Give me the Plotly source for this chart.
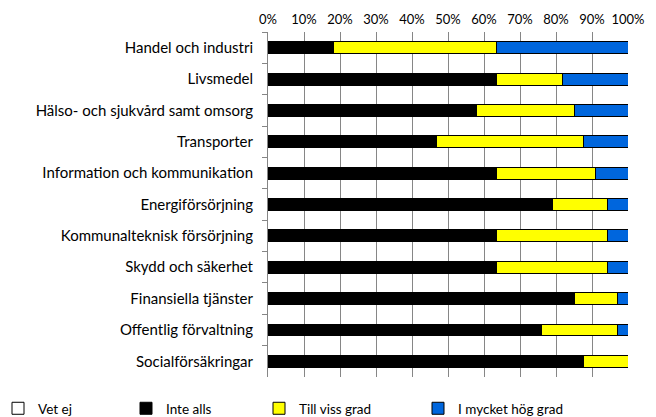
import plotly.graph_objects as go


CATEGORIES = [
    "Handel och industri",
    "Livsmedel",
    "Hälso- och sjukvård samt omsorg",
    "Transporter",
    "Information och kommunikation",
    "Energiförsörjning",
    "Kommunalteknisk försörjning",
    "Skydd och säkerhet",
    "Finansiella tjänster",
    "Offentlig förvaltning",
    "Socialförsäkringar",
]

VET_EJ = [0, 0, 0, 0, 0, 0, 0, 0, 0, 0, 0]
INTE_ALLS = [18.2, 63.6, 57.9, 46.9, 63.6, 79.0, 63.6, 63.6, 85.2, 76.1, 87.7]
TILL_VISS_GRAD = [45.4, 18.2, 27.1, 40.6, 27.4, 15.2, 30.6, 30.6, 11.9, 21.0, 12.3]
I_MYCKET_HOG_GRAD = [36.4, 18.2, 15.0, 12.5, 9.0, 5.8, 5.8, 5.8, 2.9, 2.9, 0.0]

X_TICKS = [0, 10, 20, 30, 40, 50, 60, 70, 80, 90, 100]

FONT = "Lato"
GRID = "#868686"

# name, values, fill, legend entry width (px)
series = [
    ("Vet ej", VET_EJ, "#ffffff", 83),
    ("Inte alls", INTE_ALLS, "#000000", 88),
    ("Till viss grad", TILL_VISS_GRAD, "#ffff00", 114),
    ("I mycket hög grad", I_MYCKET_HOG_GRAD, "#0066dd", 130),
]

fig = go.Figure()

for name, values, color, lw in series:
    fig.add_trace(
        go.Bar(
            y=CATEGORIES,
            x=values,
            name=name,
            orientation="h",
            legendwidth=lw,
            marker=dict(color=color, line=dict(color="#000000", width=1)),
        )
    )

# page body has an 8px margin, so the figure is 8px smaller and shifted
# plot area on the page: x 268..628, y 32..377 px
fig.update_layout(
    template="none",
    width=648,
    height=409,
    barmode="stack",
    bargap=0.62,
    paper_bgcolor="#ffffff",
    plot_bgcolor="#ffffff",
    font=dict(family=FONT, size=15, color="#000000"),
    margin=dict(l=260, r=28, t=24, b=40, autoexpand=False),
    legend=dict(
        orientation="h",
        x=-270 / 360,
        y=-16 / 345,
        xanchor="left",
        yanchor="top",
        itemwidth=30,
        traceorder="normal",
        font=dict(family=FONT, size=13.5),
        bgcolor="rgba(0,0,0,0)",
    ),
)

fig.update_xaxes(
    side="top",
    range=[0, 100],
    tickvals=X_TICKS,
    ticktext=[f"{v}%" for v in X_TICKS],
    showgrid=True,
    gridcolor=GRID,
    gridwidth=1,
    zeroline=False,
    showline=False,
    ticks="",
    ticklabelstandoff=4,
    tickfont=dict(size=13),
)

fig.update_yaxes(
    autorange="reversed",
    showline=True,
    linecolor=GRID,
    linewidth=1,
    ticks="outside",
    tickson="boundaries",
    ticklen=5,
    tickcolor=GRID,
    ticklabelstandoff=11,
    showgrid=False,
)

fig.write_html("out.html")
